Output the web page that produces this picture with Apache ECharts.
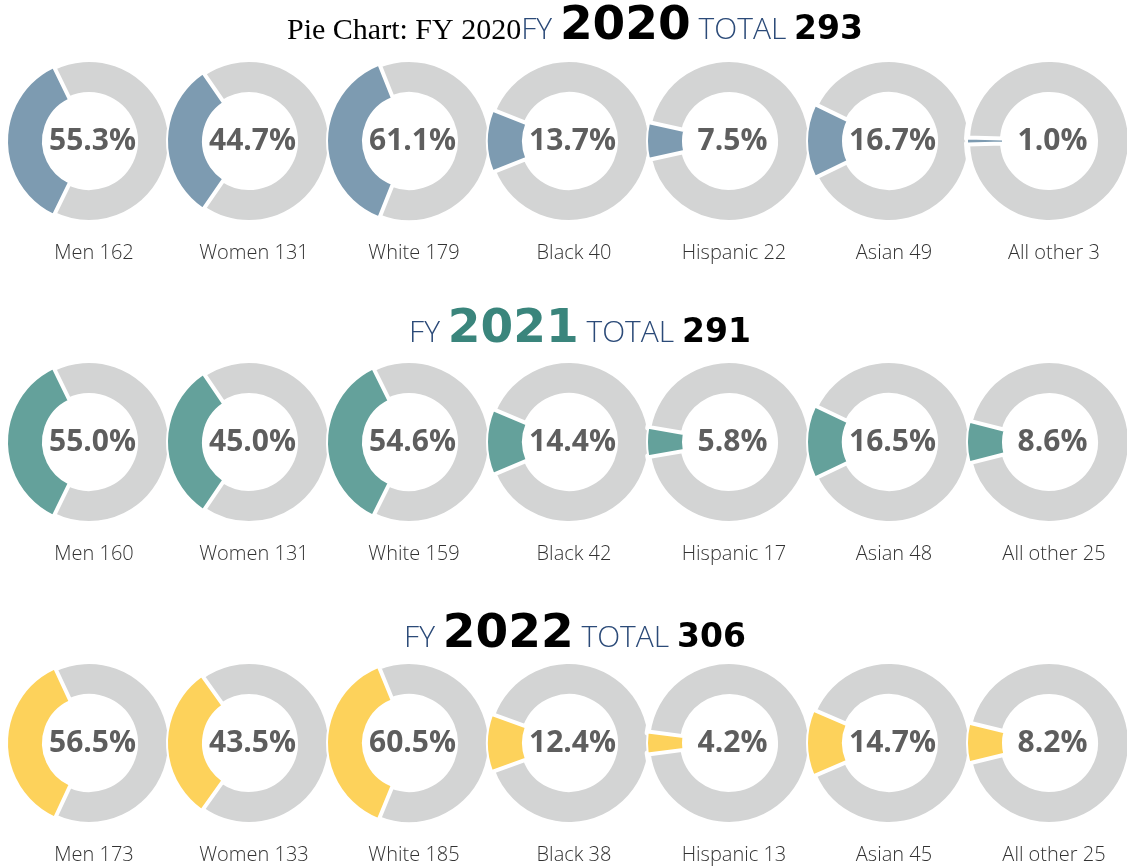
<!DOCTYPE html>
<html>
<head>
<meta charset="utf-8">
<script src="https://cdn.jsdelivr.net/npm/echarts@6/dist/echarts.min.js"></script>
<style>
html,body{margin:0;padding:0;background:#fff;}
#chart{width:1127px;height:867px;}
</style>
</head>
<body>
<div id="chart"></div>
<script>
// ---- data ----
const categories = ['Men', 'Women', 'White', 'Black', 'Hispanic', 'Asian', 'All other'];
const years = ['2020', '2021', '2022'];
const totals = [293, 291, 306];
const counts2020 = [162, 131, 179, 40, 22, 49, 3];
const counts2021 = [160, 131, 159, 42, 17, 48, 25];
const counts2022 = [173, 133, 185, 38, 13, 45, 25];
const pct2020 = [55.3, 44.7, 61.1, 13.7, 7.5, 16.7, 1.0];
const pct2021 = [55.0, 45.0, 54.6, 14.4, 5.8, 16.5, 8.6];
const pct2022 = [56.5, 43.5, 60.5, 12.4, 4.2, 14.7, 8.2];
const chartTitle = 'Pie Chart: FY 2020';

// ---- layout / style ----
const counts = [counts2020, counts2021, counts2022];
const pcts = [pct2020, pct2021, pct2022];
const sliceColors = ['#7d9bb1', '#64a19b', '#fdd25b'];
const yearColors = ['#000000', '#3a857c', '#000000'];
const grayColor = '#d3d4d4';
const navy = '#2b4a78';
const rowCY = [141, 442, 743];
const titleY = [-8, 295, 600];
const titleX = [570, 575, 570];
const colX0 = 89, colStep = 160;
const rIn = 46, rOut = 82;
const sansFont = '"Open Sans", sans-serif';
const numFont = '"DejaVu Sans", sans-serif';

const series = [];
const titles = [];

years.forEach((yr, r) => {
  const base = {verticalAlign: 'bottom', lineHeight: 50, fontWeight: 'normal'};
  const rich = {
    pre: Object.assign({}, base, {fontFamily: '"Liberation Serif", serif', fontSize: 30, color: '#000', padding: [0, 0, 1, 0]}),
    fy: Object.assign({}, base, {fontFamily: sansFont, fontSize: 30, fontWeight: 300, color: navy, padding: [0, 0, 2, 0]}),
    yr: Object.assign({}, base, {fontFamily: numFont, fontSize: 47, fontWeight: 'bold', color: yearColors[r], padding: [0, 0, -3, 0]}),
    tot: Object.assign({}, base, {fontFamily: sansFont, fontSize: 30, fontWeight: 300, color: navy, padding: [0, 0, 2, 0]}),
    num: Object.assign({}, base, {fontFamily: numFont, fontSize: 33, fontWeight: 'bold', color: '#000', padding: [0, 0, 0, 0]})
  };
  const pre = r === 0 ? '{pre|' + chartTitle + '}' : '';
  titles.push({
    left: titleX[r], top: titleY[r], textAlign: 'center',
    text: pre + '{fy|FY }{yr|' + yr + '}{tot| TOTAL }{num|' + totals[r] + '}',
    textStyle: {rich: rich}
  });

  categories.forEach((cat, c) => {
    const p = pcts[r][c];
    const n = counts[r][c];
    const cx = colX0 + colStep * c;
    const span = 360 * n / (n + totals[r]);
    series.push({
      type: 'pie',
      center: [cx, rowCY[r]],
      radius: [rIn, rOut],
      startAngle: 180 - span / 2,
      clockwise: true,
      silent: true,
      animation: false,
      avoidLabelOverlap: false,
      label: {show: false},
      labelLine: {show: false},
      emphasis: {disabled: true},
      data: [
        {value: totals[r], itemStyle: {color: grayColor, borderColor: '#fff', borderWidth: 6}},
        {value: n, itemStyle: {color: sliceColors[r], borderColor: '#fff', borderWidth: 2},
         label: {show: true, position: 'center', formatter: p.toFixed(1) + '%',
                 fontFamily: sansFont, fontSize: 30, fontWeight: 'bold', color: '#5e5e5e', padding: [0, 0, 0, 7]}}
      ]
    });
    titles.push({
      left: cx, top: rowCY[r] + 97, textAlign: 'center',
      text: cat + ' ' + n,
      textStyle: {fontFamily: sansFont, fontSize: 20, fontWeight: 300, color: '#333333'}
    });
  });
});

const chart = echarts.init(document.getElementById('chart'), null, {renderer: 'canvas'});
chart.setOption({
  backgroundColor: '#ffffff',
  animation: false,
  title: titles,
  series: series
});
</script>
</body>
</html>
